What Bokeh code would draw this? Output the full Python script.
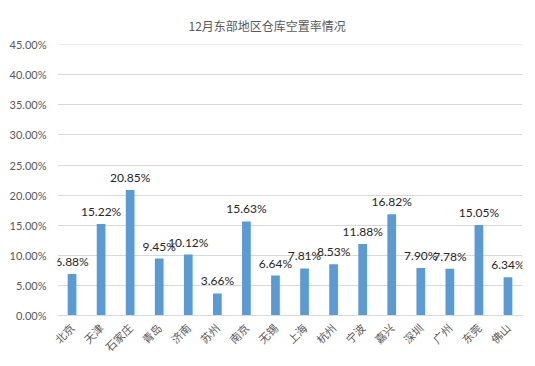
from bokeh.plotting import figure
from bokeh.models import ColumnDataSource, NumeralTickFormatter, FixedTicker, Range1d, LabelSet
from bokeh.core.properties import value
from bokeh.embed import file_html
from bokeh.resources import INLINE
from math import pi

cities = ["北京", "天津", "石家庄", "青岛", "济南", "苏州", "南京", "无锡",
          "上海", "杭州", "宁波", "嘉兴", "深圳", "广州", "东莞", "佛山"]
vacancy_pct = [6.88, 15.22, 20.85, 9.45, 10.12, 3.66, 15.63, 6.64,
               7.81, 8.53, 11.88, 16.82, 7.90, 7.78, 15.05, 6.34]
y_ticks = [0.0, 0.05, 0.10, 0.15, 0.20, 0.25, 0.30, 0.35, 0.40, 0.45]
title_text = "12月东部地区仓库空置率情况"

src = ColumnDataSource(dict(
    city=cities,
    rate=[v / 100 for v in vacancy_pct],
    label=[f"{v:.2f}%" for v in vacancy_pct],
))

p = figure(x_range=cities, width=533, height=364, output_backend="svg",
           toolbar_location=None, title=title_text,
           min_border_left=57, min_border_right=11, min_border_top=44, min_border_bottom=49)
p.y_range = Range1d(0, 0.4502)

p.vbar(x="city", top="rate", width=0.3, source=src, color="#5B9BD5", line_color=None)

labels = LabelSet(x="city", y="rate", text="label", source=src, text_align="center",
                  text_baseline="bottom", y_offset=5, text_font=value("Lato"),
                  text_font_size=value("12px"), text_color=value("#262626"))
p.add_layout(labels)

p.title.align = "left"
p.title.offset = 131
p.title.standoff = 22
p.title.text_font = "Noto Sans CJK SC"
p.title.text_font_size = "12px"
p.title.text_font_style = "normal"
p.title.text_color = "#595959"

p.yaxis.ticker = FixedTicker(ticks=y_ticks)
p.yaxis.formatter = NumeralTickFormatter(format="0.00%")
p.yaxis.axis_line_color = None
p.yaxis.major_tick_line_color = None
p.yaxis.minor_tick_line_color = None
p.yaxis.major_tick_out = 0
p.yaxis.major_label_text_font = "Lato"
p.yaxis.major_label_text_font_size = "11px"
p.yaxis.major_label_text_color = "#595959"
p.yaxis.major_label_standoff = 11

p.xaxis.axis_line_color = "#d9d9d9"
p.xaxis.major_tick_line_color = None
p.xaxis.minor_tick_line_color = None
p.xaxis.major_tick_out = 0
p.xaxis.major_label_orientation = pi / 4
p.xaxis.major_label_text_font = "Noto Sans CJK SC"
p.xaxis.major_label_text_font_size = "11px"
p.xaxis.major_label_text_color = "#595959"
p.xaxis.major_label_standoff = 10

p.xgrid.grid_line_color = None
p.ygrid.grid_line_color = "#d9d9d9"
p.ygrid.ticker = FixedTicker(ticks=y_ticks)
p.outline_line_color = None
p.background_fill_color = "white"
p.border_fill_color = "white"
p.x_range.range_padding = 0

open("out.html", "w").write(file_html(p, INLINE))
